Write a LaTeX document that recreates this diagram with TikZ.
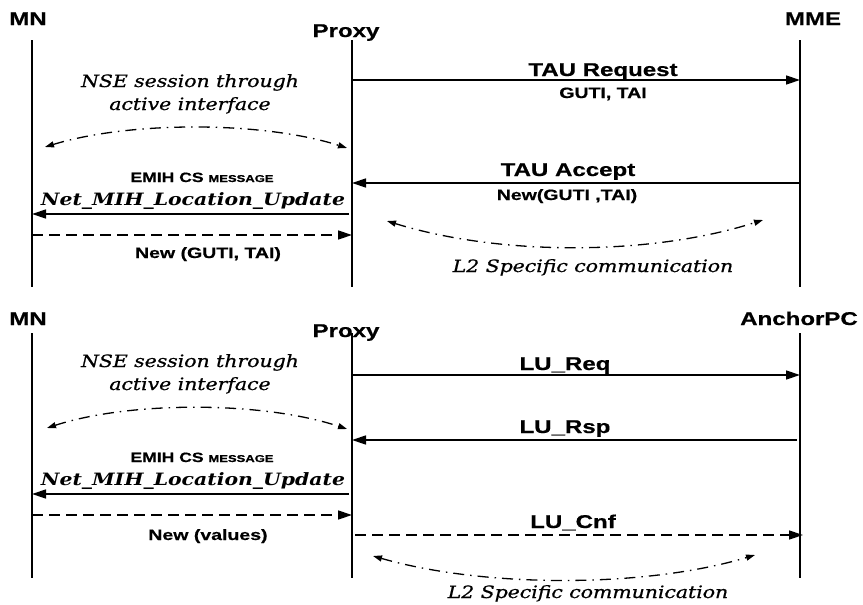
\documentclass[tikz,border=0pt]{standalone}
\usepackage{fontspec}
\setmainfont{Liberation Sans}
\newfontfamily\headfont[FakeStretch=1.3,FakeBold=0.6]{Liberation Sans}
\newfontfamily\notefont[FakeStretch=1.2,FakeBold=0.8]{DejaVu Serif}
\newfontfamily\cmdfont[FakeStretch=1.2]{DejaVu Serif}
\usetikzlibrary{arrows.meta}

\begin{document}
\begin{tikzpicture}[x=1pt,y=-1pt,
  lifeline/.style={line width=1.5pt},
  msg/.style={line width=1.4pt,-{Triangle[length=14pt,width=9pt]}},
  reply/.style={msg,dash pattern=on 11pt off 6pt},
  session/.style={line width=1.3pt,dash pattern=on 11pt off 6pt on 1.5pt off 6pt,
    {Triangle[length=9pt,width=6pt]}-{Triangle[length=9pt,width=6pt]}},
  lbl/.style={anchor=base,inner sep=0pt},
  actor/.style={lbl,font=\headfont\bfseries\fontsize{18.5}{18.5}\selectfont},
  big/.style={lbl,font=\headfont\bfseries\fontsize{18.5}{18.5}\selectfont},
  small/.style={lbl,font=\headfont\bfseries\fontsize{15}{15}\selectfont},
  tiny/.style={lbl,font=\headfont\bfseries\fontsize{13.5}{13.5}\selectfont},
  note/.style={lbl,font=\notefont\itshape\fontsize{17}{17}\selectfont},
  cmd/.style={lbl,font=\cmdfont\bfseries\itshape\fontsize{17}{17}\selectfont},
]
\useasboundingbox (0,0) rectangle (863,605);

% ---------------- upper exchange: MN / Proxy / MME ----------------
\node[actor] (mnA) at (28,25) {MN};
\node[actor] (pxA) at (346,37) {Proxy};
\node[actor] (mme) at (813,25) {MME};

\coordinate (mnAt) at (32,40);   \coordinate (mnAb) at (32,287);
\coordinate (pxAt) at (352,40);  \coordinate (pxAb) at (352,287);
\coordinate (mmet) at (800,40);  \coordinate (mmeb) at (800,287);
\draw[lifeline] (mnAt) -- (mnAb);
\draw[lifeline] (pxAt) -- (pxAb);
\draw[lifeline] (mmet) -- (mmeb);

% TAU request / accept
\coordinate (reqS) at (352,80);  \coordinate (reqE) at (800,80);
\draw[msg] (reqS) -- (reqE);
\node[big] (tauReq) at (603,76) {TAU Request};
\node[small] (tauReqP) at (603,98) {GUTI, TAI};

\coordinate (accS) at (800,183); \coordinate (accE) at (352,183);
\draw[msg] (accS) -- (accE);
\node[big] (tauAcc) at (568,176) {TAU Accept};
\node[small] (tauAccP) at (567,200) {New(GUTI ,TAI)};

% NSE session arc
\node[note] (nseA1) at (190,87) {NSE session through};
\node[note] (nseA2) at (190,110) {active interface};
\coordinate (nseAl) at (45,147); \coordinate (nseAr) at (347,148);
\draw[session] (nseAl) .. controls (130,121) and (262,121) .. (nseAr);

% location update towards MN and reply
\node[tiny] (emihA) at (202,182) {EMIH CS {\fontsize{10}{10}\selectfont MESSAGE}};
\node[cmd] (netA) at (193,205) {Net\_MIH\_Location\_Update};
\coordinate (luAs) at (349,214); \coordinate (luAe) at (32,214);
\draw[msg] (luAs) -- (luAe);
\coordinate (nwAs) at (32,235);  \coordinate (nwAe) at (352,235);
\draw[reply] (nwAs) -- (nwAe);
\node[small] (newA) at (208,258) {New (GUTI, TAI)};

% L2 arc
\coordinate (l2Al) at (387,221); \coordinate (l2Ar) at (763,220);
\draw[session] (l2Al) .. controls (500,256) and (650,256) .. (l2Ar);
\node[note] (l2A) at (593,272) {L2 Specific communication};

% ---------------- lower exchange: MN / Proxy / AnchorPC ----------------
\node[actor] (mnB) at (28,325) {MN};
\node[actor] (pxB) at (346,337) {Proxy};
\node[actor] (apc) at (799,325) {AnchorPC};

\coordinate (mnBt) at (32,333);  \coordinate (mnBb) at (32,578);
\coordinate (pxBt) at (352,333); \coordinate (pxBb) at (352,578);
\coordinate (apct) at (800,333); \coordinate (apcb) at (800,578);
\draw[lifeline] (mnBt) -- (mnBb);
\draw[lifeline] (pxBt) -- (pxBb);
\draw[lifeline] (apct) -- (apcb);

\coordinate (lrqS) at (352,375); \coordinate (lrqE) at (800,375);
\draw[msg] (lrqS) -- (lrqE);
\node[big] (luReq) at (565,370) {LU\_Req};

\coordinate (lrsS) at (797,440); \coordinate (lrsE) at (352,440);
\draw[msg] (lrsS) -- (lrsE);
\node[big] (luRsp) at (565,433) {LU\_Rsp};

\node[note] (nseB1) at (190,367) {NSE session through};
\node[note] (nseB2) at (190,390) {active interface};
\coordinate (nseBl) at (47,428); \coordinate (nseBr) at (347,429);
\draw[session] (nseBl) .. controls (130,401) and (262,401) .. (nseBr);

\node[tiny] (emihB) at (202,462) {EMIH CS {\fontsize{10}{10}\selectfont MESSAGE}};
\node[cmd] (netB) at (193,485) {Net\_MIH\_Location\_Update};
\coordinate (luBs) at (349,494); \coordinate (luBe) at (32,494);
\draw[msg] (luBs) -- (luBe);
\coordinate (nwBs) at (32,515);  \coordinate (nwBe) at (352,515);
\draw[reply] (nwBs) -- (nwBe);
\node[small] (newB) at (208,540) {New (values)};

\coordinate (cnfS) at (355,535); \coordinate (cnfE) at (803,535);
\draw[reply] (cnfS) -- (cnfE);
\node[big] (luCnf) at (573,528) {LU\_Cnf};

\coordinate (l2Bl) at (373,556); \coordinate (l2Br) at (755,555);
\draw[session] (l2Bl) .. controls (485,588) and (645,588) .. (l2Br);
\node[note] (l2B) at (588,598) {L2 Specific communication};
\end{tikzpicture}
\end{document}
